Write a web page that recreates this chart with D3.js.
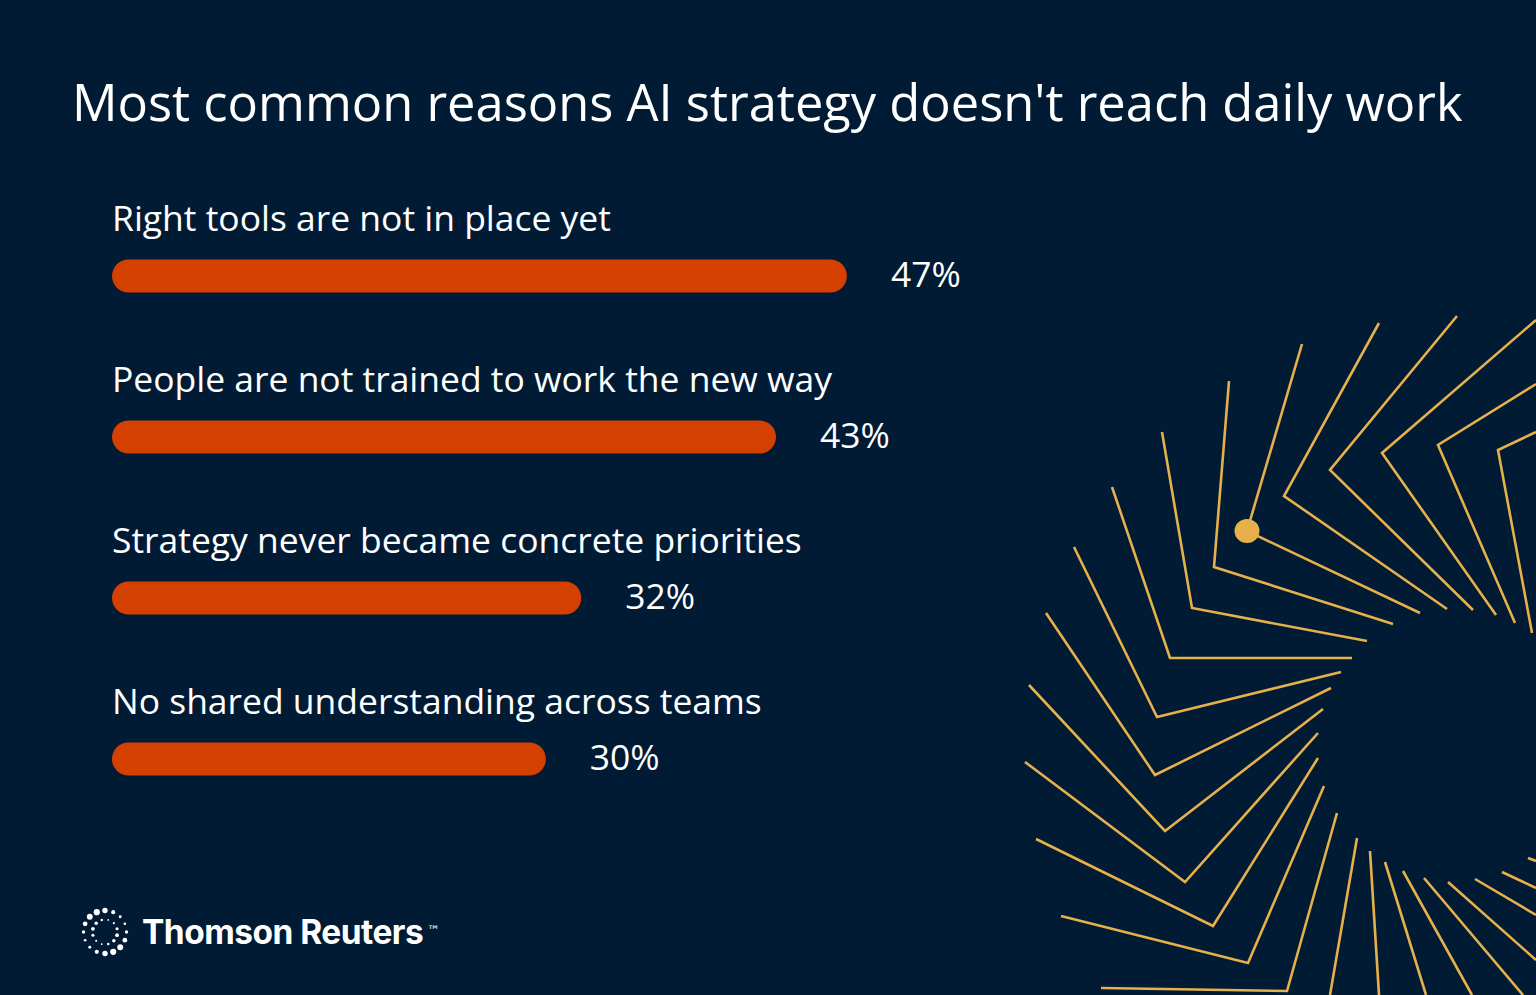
<!DOCTYPE html>
<html>
<head>
<meta charset="utf-8">
<script src="https://cdn.jsdelivr.net/npm/d3@7"></script>
<style>
  html, body { margin: 0; padding: 0; background: #011b35; overflow: hidden; }
  svg { display: block; }
</style>
</head>
<body>
<svg id="chart"></svg>
<script>
  'use strict';

  // data
  var title = "Most common reasons AI strategy doesn't reach daily work";
  var categories = [
    'Right tools are not in place yet',
    'People are not trained to work the new way',
    'Strategy never became concrete priorities',
    'No shared understanding across teams'
  ];
  var values = [47, 43, 32, 30];
  var valueLabels = ['47%', '43%', '32%', '30%'];

  // decoration: gold chevron rays on the right
  var rays = [
    [[1229,381],[1214,567],[1393,624]],
    [[1162,432],[1192,608],[1367,641]],
    [[1112,487],[1170,658],[1352,658]],
    [[1074,547],[1157,717],[1341,672]],
    [[1046,613],[1155,775],[1331,688]],
    [[1029,685],[1165,831],[1323,709]],
    [[1025,762],[1185,882],[1318,733]],
    [[1036,839],[1213,926],[1318,758]],
    [[1061,916],[1248,963],[1324,786]],
    [[1101,988],[1287,991],[1337,813]],
    [[1302,344],[1247,531],[1420,613]],
    [[1379,323],[1284,496],[1447,609]],
    [[1457,316],[1330,470],[1473,610]],
    [[1536,320],[1382,453],[1496,615]],
    [[1536,384],[1438,445],[1515,623]],
    [[1536,432],[1498,450],[1532,633]],
    [[1357,838],[1330,995]],
    [[1370,851],[1379,995]],
    [[1385,862],[1426,995]],
    [[1403,871],[1472,995]],
    [[1424,878],[1523,995]],
    [[1448,882],[1536,960]],
    [[1475,879],[1536,915]],
    [[1502,872],[1536,888]],
    [[1528,858],[1536,861]]
  ];
  var rayDot = [1247, 531];

  var W = 1536, H = 995;
  var bg = '#011b35', barColor = '#d34000', gold = '#e6b14a';
  var font = '"Open Sans", "Noto Sans", sans-serif';

  var svg = d3.select('#chart').attr('width', W).attr('height', H);

  svg.append('rect').attr('width', W).attr('height', H).attr('fill', bg);

  // rays
  var line = d3.line();
  svg.append('g').attr('class', 'rays')
    .selectAll('path').data(rays).enter().append('path')
      .attr('d', line)
      .attr('fill', 'none')
      .attr('stroke', gold)
      .attr('stroke-width', 2.6)
      .attr('stroke-linejoin', 'miter');
  svg.append('ellipse')
      .attr('cx', rayDot[0]).attr('cy', rayDot[1])
      .attr('rx', 12.5).attr('ry', 12)
      .attr('fill', gold);

  // fit a font size so a text spans the width it has in the layout
  function fitSize(sel, base, target) {
    sel.style('font-size', base + 'px');
    var w = 0;
    sel.each(function () { w += this.getComputedTextLength(); });
    return base * target / w;
  }

  // title
  var t = svg.append('text')
      .attr('x', 72).attr('y', 121)
      .style('font-family', font)
      .style('fill', '#fff')
      .text(title);
  t.style('font-size', fitSize(t, 52, 1391) + 'px');

  // bars
  var left = 112, barH = 33;
  var y = d3.scaleBand().domain(categories).range([194, 838]).paddingInner(0);
  var x = d3.scaleLinear().domain([5.5, 50]).range([0, 788]);

  var rows = svg.append('g').attr('class', 'rows')
    .selectAll('g').data(categories).enter().append('g')
      .attr('transform', function (d) { return 'translate(' + left + ',' + (y(d) + 82) + ')'; });

  rows.append('rect')
      .attr('x', 0).attr('y', -barH / 2)
      .attr('width', function (d, i) { return x(values[i]); })
      .attr('height', barH)
      .attr('rx', barH / 2).attr('ry', barH / 2)
      .attr('fill', barColor);

  var names = rows.append('text')
      .attr('x', 0).attr('y', -45)
      .style('font-family', font)
      .style('fill', '#fff')
      .text(function (d) { return d; });
  var labelSize = fitSize(names, 36, 501 + 720 + 692 + 646);
  names.style('font-size', labelSize + 'px');

  rows.append('text')
      .attr('x', function (d, i) { return x(values[i]) + 44; })
      .attr('y', 11)
      .style('font-family', font)
      .style('font-size', labelSize + 'px')
      .style('fill', '#fff')
      .text(function (d, i) { return valueLabels[i]; });

  // logo
  var logo = svg.append('g').attr('class', 'logo').attr('transform', 'translate(105,932)');
  var outer = d3.range(16).map(function (i) { return i / 16 * 2 * Math.PI; });
  var inner = d3.range(12).map(function (i) { return (i + 0.5) / 12 * 2 * Math.PI; });
  logo.selectAll('circle.o').data(outer).enter().append('circle')
      .attr('class', 'o')
      .attr('cx', function (a) { return 21.5 * Math.cos(a); })
      .attr('cy', function (a) { return 21.5 * Math.sin(a); })
      .attr('r', function (a) { return 2.2 + 0.9 * Math.sin(a * 2 - 0.6); })
      .attr('fill', '#fff');
  logo.selectAll('circle.i').data(inner).enter().append('circle')
      .attr('class', 'i')
      .attr('cx', function (a) { return 12.5 * Math.cos(a); })
      .attr('cy', function (a) { return 12.5 * Math.sin(a); })
      .attr('r', function (a) { return 1.4 + 0.5 * Math.sin(a * 2 + 0.8); })
      .attr('fill', '#fff');

  var brand = svg.append('text')
      .attr('x', 142).attr('y', 944)
      .style('font-family', 'Inter, "Noto Sans", sans-serif')
      .style('font-weight', 700)
      .style('letter-spacing', '-0.5px')
      .style('fill', '#fff')
      .text('Thomson Reuters');
  brand.style('font-size', fitSize(brand, 32, 281) + 'px');
  svg.append('text')
      .attr('x', 427).attr('y', 935)
      .style('font-family', '"DejaVu Sans", sans-serif')
      .style('font-size', '13px')
      .style('fill', '#fff')
      .text('\u2122');
</script>
</body>
</html>
